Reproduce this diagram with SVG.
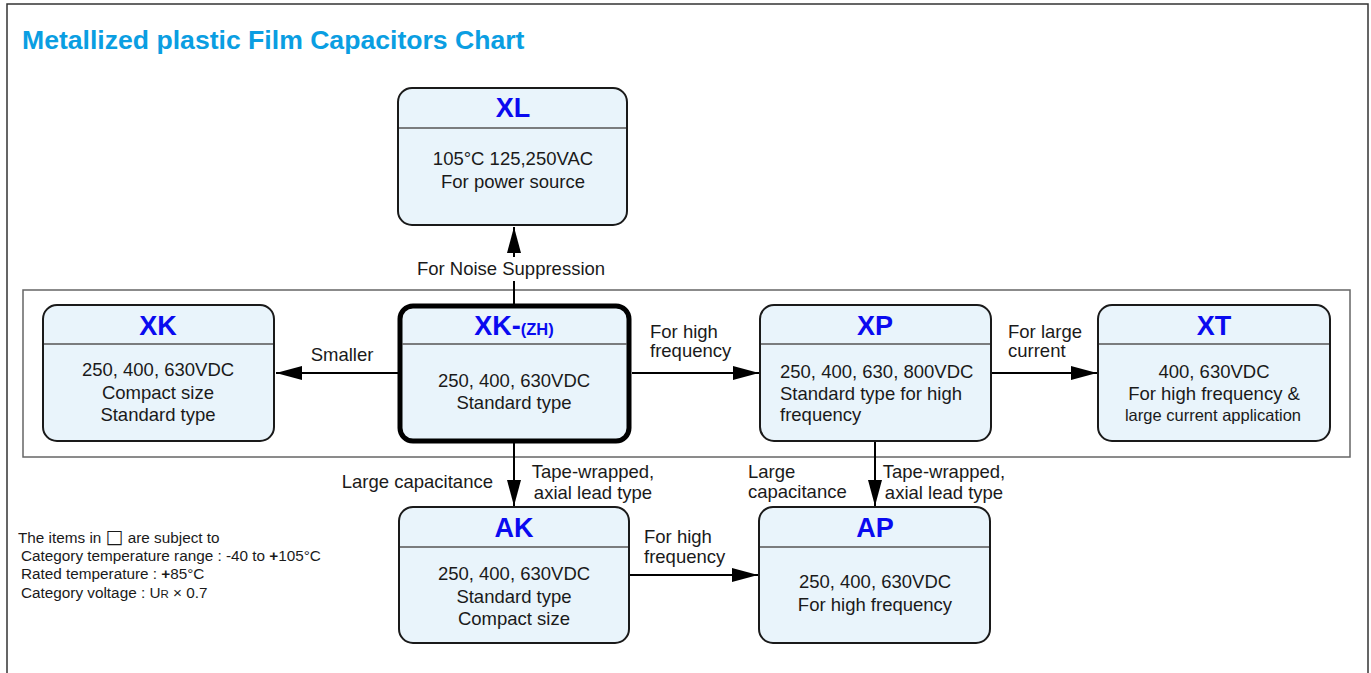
<svg xmlns="http://www.w3.org/2000/svg" width="1371" height="673" viewBox="0 0 1371 673">
<defs>
<style>
.frame{fill:#fff;stroke:#333;stroke-width:1.5}
.panel{fill:none;stroke:#666;stroke-width:1.5}
.box{fill:#E9F4FB;stroke:#1a1a1a;stroke-width:2}
.boxb{fill:#E9F4FB;stroke:#000;stroke-width:5}
.hdr{stroke:#555;stroke-width:1.5}
.ttl{font-family:"Liberation Sans",Arial,sans-serif;font-weight:bold;font-size:26.6px;fill:#0A9EE2}
.nt{font-family:"Liberation Sans",Arial,sans-serif;font-weight:bold;font-size:27px;fill:#0A0AF0;text-anchor:middle}
.bt{font-family:"Liberation Sans",Arial,sans-serif;font-size:18.5px;fill:#1a1a1a}
.sm{font-size:16.5px}
.c{text-anchor:middle}
.lb{font-family:"Liberation Sans",Arial,sans-serif;font-size:18.5px;fill:#1a1a1a}
.fn{font-family:"Liberation Sans",Arial,sans-serif;font-size:15.3px;fill:#1a1a1a}
.ln{stroke:#000;stroke-width:2;fill:none}
</style>
<marker id="arr" markerUnits="userSpaceOnUse" viewBox="0 0 26 14" markerWidth="26" markerHeight="14" refX="26" refY="7" orient="auto">
<path d="M0,0 L26,7 L0,14 z" fill="#000"/>
</marker>
</defs>
<rect class="frame" x="7" y="4" width="1361" height="690"/>
<text class="ttl" x="22" y="49">Metallized plastic Film Capacitors Chart</text>
<rect class="panel" x="23" y="290" width="1327" height="167"/>

<g id="connectors">
<line class="ln" x1="514" y1="304" x2="514" y2="227" marker-end="url(#arr)"/>
<rect x="410" y="257" width="204" height="24" fill="#fff"/>
<text class="lb c" x="511" y="275">For Noise Suppression</text>
<line class="ln" x1="398" y1="373" x2="276" y2="373" marker-end="url(#arr)"/>
<text class="lb c" x="342" y="361">Smaller</text>
<line class="ln" x1="632" y1="373" x2="759" y2="373" marker-end="url(#arr)"/>
<text class="lb" x="650" y="338">For high</text>
<text class="lb" x="650" y="357">frequency</text>
<line class="ln" x1="992" y1="373" x2="1097" y2="373" marker-end="url(#arr)"/>
<text class="lb" x="1008" y="338">For large</text>
<text class="lb" x="1008" y="357">current</text>
<line class="ln" x1="514" y1="443" x2="514" y2="506" marker-end="url(#arr)"/>
<text class="lb" x="493" y="488" text-anchor="end">Large capacitance</text>
<text class="lb c" x="593" y="478">Tape-wrapped,</text>
<text class="lb c" x="593" y="499">axial lead type</text>
<line class="ln" x1="875" y1="442" x2="875" y2="506" marker-end="url(#arr)"/>
<text class="lb" x="748" y="478">Large</text>
<text class="lb" x="748" y="498">capacitance</text>
<text class="lb c" x="944" y="478">Tape-wrapped,</text>
<text class="lb c" x="944" y="499">axial lead type</text>
<line class="ln" x1="630" y1="575" x2="758" y2="575" marker-end="url(#arr)"/>
<text class="lb" x="644" y="543">For high</text>
<text class="lb" x="644" y="563">frequency</text>
</g>

<g id="XL">
<rect class="box" x="398" y="88" width="229" height="137" rx="14"/>
<line class="hdr" x1="399" y1="128" x2="626" y2="128"/>
<text class="nt" x="513" y="117">XL</text>
<text class="bt c" x="513" y="165">105°C 125,250VAC</text>
<text class="bt c" x="513" y="188">For power source</text>
</g>

<g id="XK">
<rect class="box" x="43" y="305" width="231" height="136" rx="14"/>
<line class="hdr" x1="44" y1="344" x2="273" y2="344"/>
<text class="nt" x="158" y="335">XK</text>
<text class="bt c" x="158" y="376">250, 400, 630VDC</text>
<text class="bt c" x="158" y="399">Compact size</text>
<text class="bt c" x="158" y="421">Standard type</text>
</g>

<g id="XK-ZH">
<rect class="boxb" x="400" y="306" width="229" height="135" rx="13"/>
<line class="hdr" x1="402" y1="344" x2="627" y2="344"/>
<text class="nt" x="514" y="335">XK-<tspan font-size="16.5">(ZH)</tspan></text>
<text class="bt c" x="514" y="387">250, 400, 630VDC</text>
<text class="bt c" x="514" y="409">Standard type</text>
</g>

<g id="XP">
<rect class="box" x="760" y="305" width="231" height="136" rx="14"/>
<line class="hdr" x1="761" y1="344" x2="990" y2="344"/>
<text class="nt" x="875" y="335">XP</text>
<text class="bt" x="780" y="378">250, 400, 630, 800VDC</text>
<text class="bt" x="780" y="400">Standard type for high</text>
<text class="bt" x="780" y="421">frequency</text>
</g>

<g id="XT">
<rect class="box" x="1098" y="305" width="232" height="136" rx="14"/>
<line class="hdr" x1="1099" y1="344" x2="1329" y2="344"/>
<text class="nt" x="1214" y="335">XT</text>
<text class="bt c" x="1214" y="378">400, 630VDC</text>
<text class="bt c" x="1214" y="400">For high frequency &amp;</text>
<text class="bt c sm" x="1213" y="421">large current application</text>
</g>

<g id="AK">
<rect class="box" x="399" y="507" width="230" height="136" rx="14"/>
<line class="hdr" x1="400" y1="547" x2="628" y2="547"/>
<text class="nt" x="514" y="537">AK</text>
<text class="bt c" x="514" y="580">250, 400, 630VDC</text>
<text class="bt c" x="514" y="603">Standard type</text>
<text class="bt c" x="514" y="625">Compact size</text>
</g>

<g id="AP">
<rect class="box" x="759" y="507" width="231" height="136" rx="14"/>
<line class="hdr" x1="760" y1="547" x2="989" y2="547"/>
<text class="nt" x="875" y="537">AP</text>
<text class="bt c" x="875" y="588">250, 400, 630VDC</text>
<text class="bt c" x="875" y="611">For high frequency</text>
</g>

<g id="note">
<text class="fn" x="18" y="543">The items in <tspan font-family="'DejaVu Sans',sans-serif" font-size="19">□</tspan> are subject to</text>
<text class="fn" x="21" y="561">Category temperature range : -40 to <tspan font-weight="bold">+</tspan>105°C</text>
<text class="fn" x="21" y="579">Rated temperature : <tspan font-weight="bold">+</tspan>85°C</text>
<text class="fn" x="21" y="598">Category voltage : U<tspan font-size="11.5">R</tspan> × 0.7</text>
</g>
</svg>
